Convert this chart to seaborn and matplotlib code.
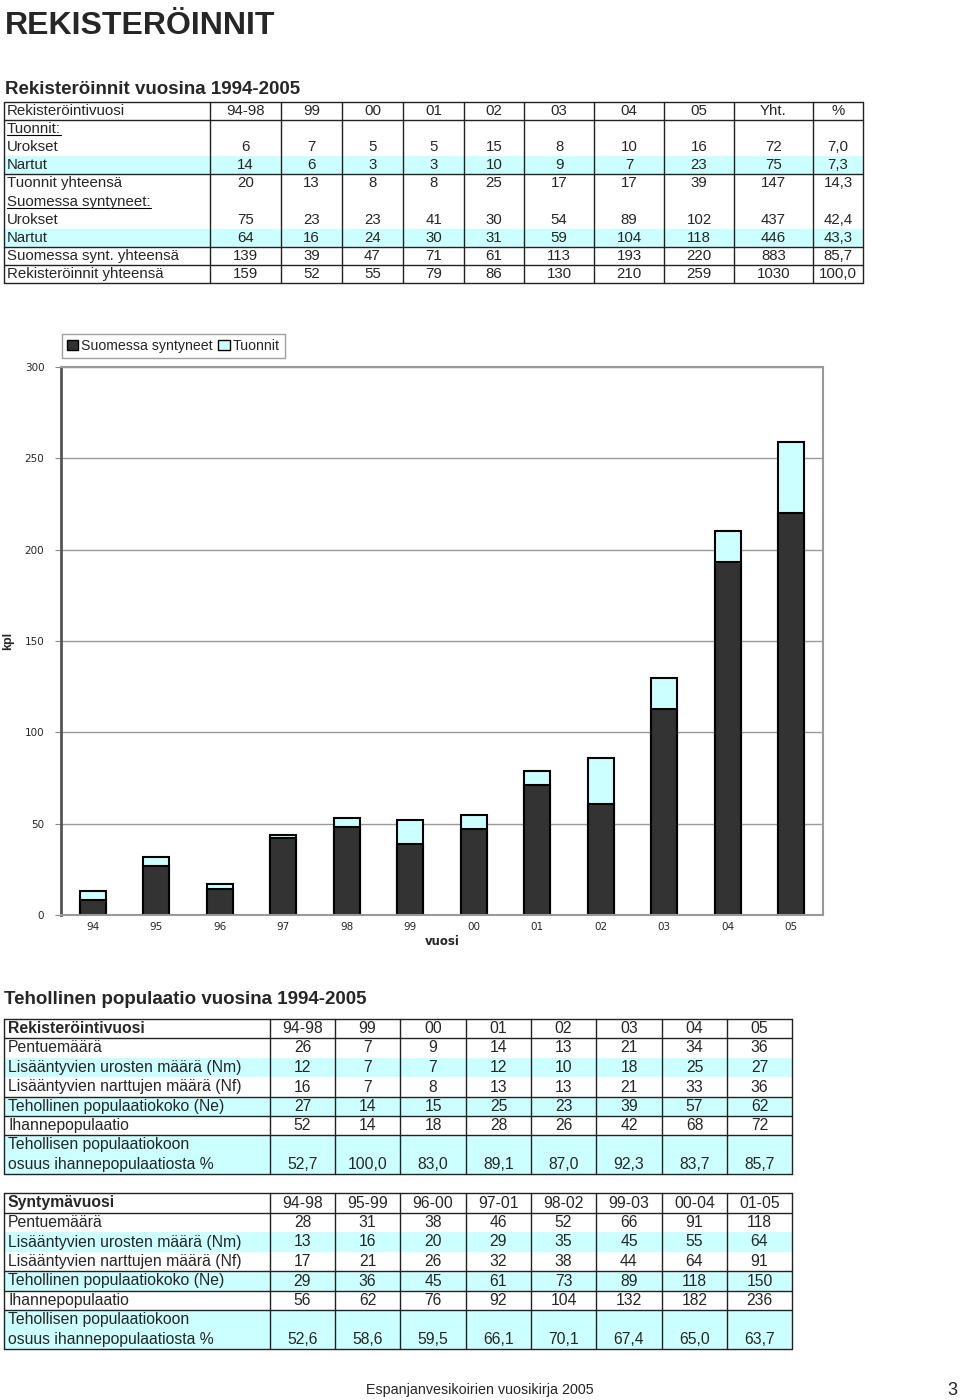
import numpy as np
import pandas as pd
import matplotlib
matplotlib.use("Agg")
import matplotlib.pyplot as plt
import seaborn as sns
from matplotlib.patches import Rectangle, Patch

# ---- data ----
t1_header = ['Rekisteröintivuosi', '94-98', '99', '00', '01', '02', '03', '04', '05', 'Yht.', '%']
t1_labels = ['Tuonnit:', 'Urokset', 'Nartut', 'Tuonnit yhteensä', 'Suomessa syntyneet:',
             'Urokset', 'Nartut', 'Suomessa synt. yhteensä', 'Rekisteröinnit yhteensä']
t1_values = [
    [],
    ['6', '7', '5', '5', '15', '8', '10', '16', '72', '7,0'],
    ['14', '6', '3', '3', '10', '9', '7', '23', '75', '7,3'],
    ['20', '13', '8', '8', '25', '17', '17', '39', '147', '14,3'],
    [],
    ['75', '23', '23', '41', '30', '54', '89', '102', '437', '42,4'],
    ['64', '16', '24', '30', '31', '59', '104', '118', '446', '43,3'],
    ['139', '39', '47', '71', '61', '113', '193', '220', '883', '85,7'],
    ['159', '52', '55', '79', '86', '130', '210', '259', '1030', '100,0'],
]

chart_years = ['94', '95', '96', '97', '98', '99', '00', '01', '02', '03', '04', '05']
born = [8, 27, 14, 42, 48, 39, 47, 71, 61, 113, 193, 220]
imported = [5, 5, 3, 2, 5, 13, 8, 8, 25, 17, 17, 39]

pop_labels = ['Pentuemäärä', 'Lisääntyvien urosten määrä (Nm)', 'Lisääntyvien narttujen määrä (Nf)',
              'Tehollinen populaatiokoko (Ne)', 'Ihannepopulaatio',
              'Tehollisen populaatiokoon\nosuus ihannepopulaatiosta %']

t2_header = ['Rekisteröintivuosi', '94-98', '99', '00', '01', '02', '03', '04', '05']
t2_values = [
    ['26', '7', '9', '14', '13', '21', '34', '36'],
    ['12', '7', '7', '12', '10', '18', '25', '27'],
    ['16', '7', '8', '13', '13', '21', '33', '36'],
    ['27', '14', '15', '25', '23', '39', '57', '62'],
    ['52', '14', '18', '28', '26', '42', '68', '72'],
    ['52,7', '100,0', '83,0', '89,1', '87,0', '92,3', '83,7', '85,7'],
]

t3_header = ['Syntymävuosi', '94-98', '95-99', '96-00', '97-01', '98-02', '99-03', '00-04', '01-05']
t3_values = [
    ['28', '31', '38', '46', '52', '66', '91', '118'],
    ['13', '16', '20', '29', '35', '45', '55', '64'],
    ['17', '21', '26', '32', '38', '44', '64', '91'],
    ['29', '36', '45', '61', '73', '89', '118', '150'],
    ['56', '62', '76', '92', '104', '132', '182', '236'],
    ['52,6', '58,6', '59,5', '66,1', '70,1', '67,4', '65,0', '63,7'],
]

CYAN = '#CCFFFF'
DARK = '#333333'

sns.set_style('white')
plt.rcParams['font.family'] = ['Liberation Sans', 'DejaVu Sans']

fig = plt.figure(figsize=(9.6, 14), dpi=100)
page = fig.add_axes([0, 0, 1, 1])
page.set_xlim(0, 960)
page.set_ylim(1400, 0)
page.axis('off')


def grid(x_edges, y_edges, fill_rows, hline_rows):
    x0, x1 = x_edges[0], x_edges[-1]
    for i in fill_rows:
        page.add_patch(Rectangle((x0, y_edges[i]), x1 - x0, y_edges[i + 1] - y_edges[i],
                                 facecolor=CYAN, edgecolor='none', zorder=1))
    for x in x_edges:
        page.plot([x, x], [y_edges[0], y_edges[-1]], color='#222222', lw=1, zorder=2)
    for k in hline_rows:
        page.plot([x0, x1], [y_edges[k], y_edges[k]], color='#222222', lw=1, zorder=2)


def underline(txt):
    r = fig.canvas.get_renderer()
    bb = txt.get_window_extent(renderer=r).transformed(page.transData.inverted())
    y = max(bb.y0, bb.y1) - 1
    page.plot([bb.x0, bb.x1], [y, y], color='black', lw=0.8, zorder=3)


# ---- titles ----
page.text(5, 34, 'REKISTERÖINNIT', fontsize=23, fontweight='bold', va='baseline')
page.text(5, 94, 'Rekisteröinnit vuosina 1994-2005', fontsize=13.5, fontweight='bold', va='baseline')
page.text(4, 1004, 'Tehollinen populaatio vuosina 1994-2005', fontsize=13.5, fontweight='bold',
          va='baseline')

# ---- table 1 ----
FS1 = 10.8
x1e = [4, 210, 281, 342, 403, 464, 524, 594, 664, 734, 813, 863]
y1e = np.linspace(102, 283, 11)
grid(x1e, y1e, [3, 7], [0, 1, 4, 8, 9, 10])
for j, h in enumerate(t1_header):
    yc = (y1e[0] + y1e[1]) / 2
    if j == 0:
        page.text(x1e[0] + 3, yc, h, fontsize=FS1, va='center', zorder=4)
    else:
        page.text((x1e[j] + x1e[j + 1]) / 2, yc, h, fontsize=FS1, va='center', ha='center', zorder=4)
for i, (lab, vals) in enumerate(zip(t1_labels, t1_values)):
    yc = (y1e[i + 1] + y1e[i + 2]) / 2
    t = page.text(x1e[0] + 3, yc, lab, fontsize=FS1, va='center', zorder=4)
    if not vals:
        underline(t)
    for j, v in enumerate(vals):
        page.text((x1e[j + 1] + x1e[j + 2]) / 2, yc, v, fontsize=FS1, va='center', ha='center', zorder=4)


def pop_table(y_edges, header, values, size):
    xe = [4, 270, 335, 400, 466, 531, 596, 662, 727, 792]
    grid(xe, y_edges, [2, 4, 6], [0, 1, 4, 5, 6, 7])
    yc = (y_edges[0] + y_edges[1]) / 2
    for j, h in enumerate(header):
        if j == 0:
            page.text(xe[0] + 4, yc, h, fontsize=size, fontweight='bold', va='center', zorder=4)
        else:
            page.text((xe[j] + xe[j + 1]) / 2, yc, h, fontsize=size, va='center', ha='center', zorder=4)
    for i, (lab, vals) in enumerate(zip(pop_labels, values)):
        top, bot = y_edges[i + 1], y_edges[i + 2]
        if '\n' in lab:
            a, b = lab.split('\n')
            mid = (top + bot) / 2
            page.text(xe[0] + 4, (top + mid) / 2, a, fontsize=size, va='center', zorder=4)
            page.text(xe[0] + 4, (mid + bot) / 2, b, fontsize=size, va='center', zorder=4)
            yv = (mid + bot) / 2
        else:
            yv = (top + bot) / 2
            page.text(xe[0] + 4, yv, lab, fontsize=size, va='center', zorder=4)
        for j, v in enumerate(vals):
            page.text((xe[j + 1] + xe[j + 2]) / 2, yv, v, fontsize=size,
                      va='center', ha='center', zorder=4)


pop_table([1019, 1038, 1058, 1077, 1097, 1116, 1135, 1174], t2_header, t2_values, 11.3)
pop_table([1193, 1213, 1232, 1252, 1271, 1291, 1310, 1349], t3_header, t3_values, 11.3)

# ---- footer ----
page.text(480, 1394, 'Espanjanvesikoirien vuosikirja 2005', fontsize=10.3, ha='center', va='baseline')
page.text(952, 1395, '3', fontsize=13, ha='center', va='baseline')

# ---- bar chart ----
ax = fig.add_axes([61 / 960, 1 - 915 / 1400, (823 - 61) / 960, (915 - 367) / 1400])
df = pd.DataFrame({'vuosi': chart_years, 'Suomessa syntyneet': born, 'Tuonnit': imported})
df['yhteensa'] = df['Suomessa syntyneet'] + df['Tuonnit']
sns.barplot(data=df, x='vuosi', y='yhteensa', order=chart_years, color=CYAN, saturation=1,
            edgecolor='black', linewidth=1.5, width=0.41, ax=ax)
sns.barplot(data=df, x='vuosi', y='Suomessa syntyneet', order=chart_years, color=DARK,
            saturation=1, edgecolor='black', linewidth=1.5, width=0.41, ax=ax)
ax.set_xlim(-0.5, 11.5)
ax.set_ylim(0, 300)
ax.set_yticks(range(0, 301, 50))
ax.yaxis.grid(True, color='#999999', lw=1)
ax.set_axisbelow(True)
ax.set_xticks(np.arange(-0.5, 12, 1), minor=True)
ax.tick_params(axis='x', which='major', length=0, labelsize=7.5, pad=5,
               labelfontfamily='DejaVu Sans')
ax.tick_params(axis='x', which='minor', length=4, color='#888888', direction='out')
ax.tick_params(axis='y', length=4, color='#888888', labelsize=7.5, pad=8, direction='out',
               left=True, labelfontfamily='DejaVu Sans')
ax.set_xlabel('vuosi', fontweight='bold', fontsize=8.5, family='DejaVu Sans')
ax.xaxis.set_label_coords(0.5, -0.036)
ax.set_ylabel('kpl', fontweight='bold', fontsize=9)
ax.yaxis.set_label_coords(-0.062, 0.5)
for s in ['top', 'right', 'bottom']:
    ax.spines[s].set_color('#999999')
    ax.spines[s].set_linewidth(1.5)
ax.spines['left'].set_color('#555555')
ax.spines['left'].set_linewidth(2)

leg = fig.legend(handles=[Patch(facecolor=DARK, edgecolor='black', label='Suomessa syntyneet'),
                          Patch(facecolor=CYAN, edgecolor='black', label='Tuonnit')],
                 loc='upper left', bbox_to_anchor=(62 / 960, 1 - 334 / 1400), ncol=2,
                 frameon=True, fancybox=False, edgecolor='#888888', fontsize=10.2,
                 handlelength=0.8, handleheight=0.8, handletextpad=0.2, columnspacing=0.4,
                 borderpad=0.35, borderaxespad=0)
leg.get_frame().set_linewidth(1)

fig.savefig('out.png', dpi=100)
